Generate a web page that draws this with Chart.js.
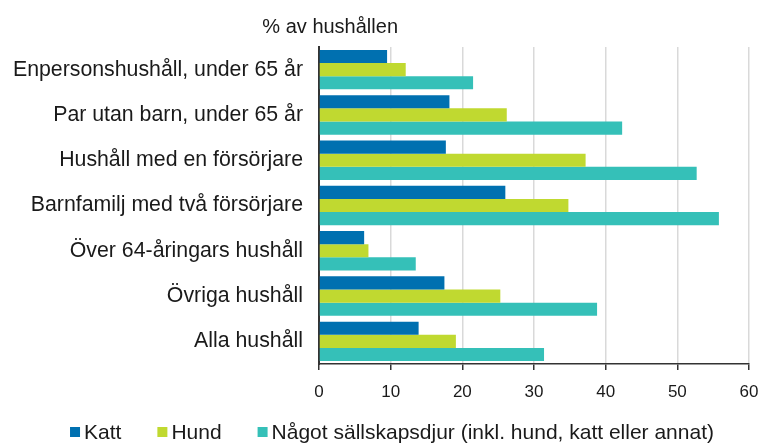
<!DOCTYPE html>
<html><head><meta charset="utf-8">
<script src="https://cdn.jsdelivr.net/npm/chart.js@4/dist/chart.umd.min.js"></script>
<style>html,body{margin:0;padding:0;background:#fff}#wrap{width:762px;height:443px}</style>
</head><body><div id="wrap"><canvas id="c" width="762" height="443"></canvas></div>
<script>
const categories = ["Enpersonshushåll, under 65 år","Par utan barn, under 65 år","Hushåll med en försörjare","Barnfamilj med två försörjare","Över 64-åringars hushåll","Övriga hushåll","Alla hushåll"];
const katt = [9.5, 18.2, 17.7, 26.0, 6.3, 17.5, 13.9];
const hund = [12.1, 26.2, 37.2, 34.8, 6.9, 25.3, 19.1];
const nagot = [21.5, 42.3, 52.7, 55.8, 13.5, 38.8, 31.4];
const seriesNames = ["Katt","Hund","Något sällskapsdjur (inkl. hund, katt eller annat)"];
const seriesColors = ['#0070b0', '#c0d930', '#35c0b8'];
const axisTitle = "% av hushållen";

const FONT = "'Liberation Sans', Arial, sans-serif";
const TEXT = '#1a1a1a';

const extrasPlugin = {
  id: 'extras',
  afterDraw(chart) {
    const ctx = chart.ctx, a = chart.chartArea;
    ctx.save();
    ctx.font = "20px " + FONT;
    ctx.fillStyle = TEXT;
    ctx.textAlign = "right";
    ctx.textBaseline = "alphabetic";
    ctx.fillText(axisTitle, a.left + 79, a.top - 14);
    ctx.font = "21px " + FONT;
    const box = 10, gap = 4, space = 36;
    const items = chart.data.datasets.map(d => ({label: d.label, color: d.backgroundColor, w: ctx.measureText(d.label).width}));
    let total = items.reduce((s, it) => s + box + gap + it.w, 0) + space * (items.length - 1);
    let x = chart.width / 2 + 11 - total / 2;
    const baseline = chart.height - 4;
    ctx.textAlign = "left";
    items.forEach(it => {
      ctx.fillStyle = it.color;
      ctx.fillRect(x, baseline - 12, box, box);
      ctx.fillStyle = TEXT;
      ctx.fillText(it.label, x + box + gap, baseline);
      x += box + gap + it.w + space;
    });
    ctx.restore();
  }
};

new Chart(document.getElementById('c'), {
  type: 'bar',
  data: {
    labels: categories,
    datasets: [
      {label: seriesNames[0], data: katt, backgroundColor: seriesColors[0]},
      {label: seriesNames[1], data: hund, backgroundColor: seriesColors[1]},
      {label: seriesNames[2], data: nagot, backgroundColor: seriesColors[2]}
    ]
  },
  options: {
    indexAxis: 'y',
    responsive: false,
    animation: false,
    devicePixelRatio: 1,
    datasets: { bar: { categoryPercentage: 0.87, barPercentage: 1.0 } },
    layout: { padding: { top: 47, right: 13, left: 0, bottom: 39 } },
    scales: {
      x: {
        min: 0, max: 60,
        ticks: { stepSize: 10, color: TEXT, font: { family: FONT, size: 17 }, padding: 12 },
        grid: { color: '#d9d9d9', lineWidth: 1.5, tickColor: '#333', tickLength: 6 },
        border: { color: '#333', width: 1.5 },
        afterFit(s) { s.height = 40; s.paddingLeft = 0; s.paddingRight = 0; }
      },
      y: {
        ticks: { color: TEXT, font: { family: FONT, size: 21.3 }, padding: 16 },
        grid: { display: false, drawTicks: false },
        border: { color: '#333', width: 2 },
        afterFit(s) { s.width = 319; s.paddingTop = 0; s.paddingBottom = 0; }
      }
    },
    plugins: {
      legend: { display: false },
      tooltip: { enabled: false }
    }
  },
  plugins: [extrasPlugin]
});
</script></body></html>
